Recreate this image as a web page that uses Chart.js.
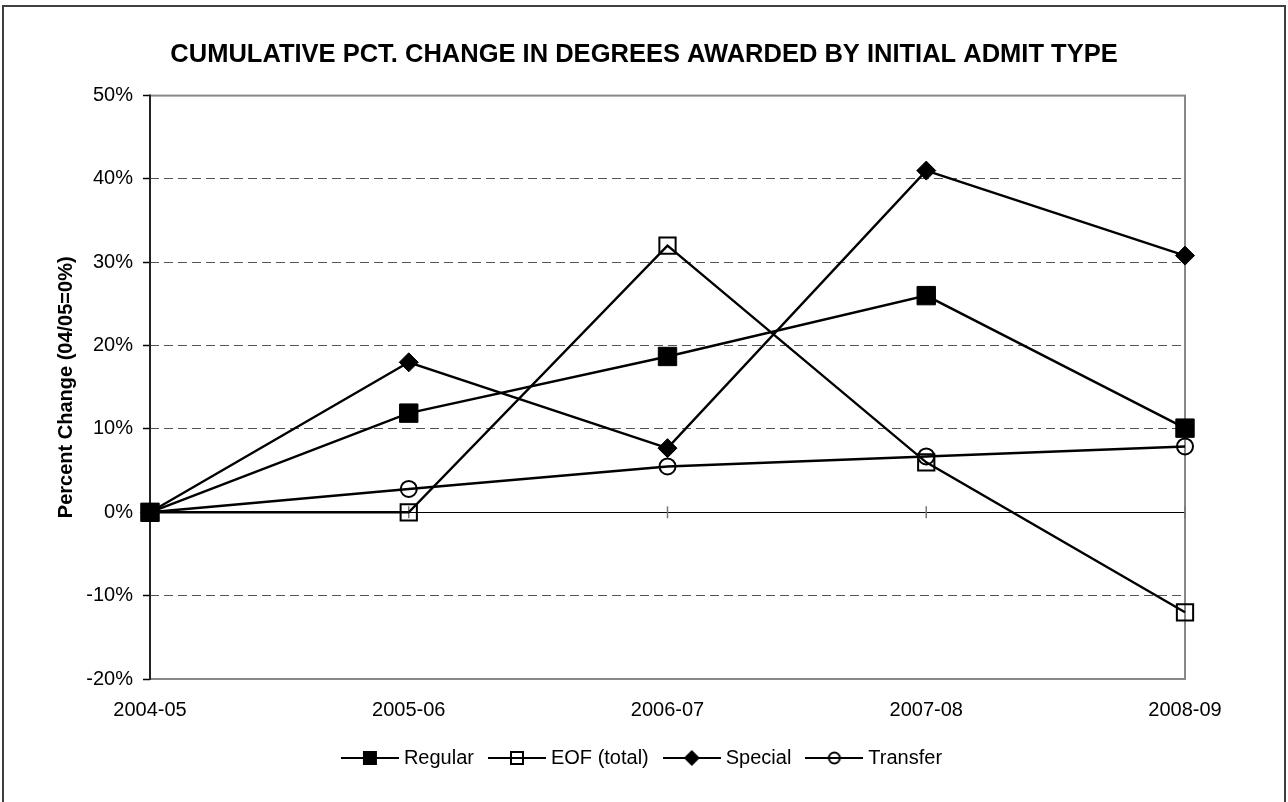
<!DOCTYPE html>
<html>
<head>
<meta charset="utf-8">
<script src="https://cdn.jsdelivr.net/npm/chart.js@4/dist/chart.umd.min.js"></script>
<style>
  html, body { margin: 0; padding: 0; background: #fff; overflow: hidden; }
  #wrap { position: relative; width: 1288px; height: 802px; }
  #chart { position: absolute; left: 0; top: 0; }
  #frame {
    position: absolute; left: 2px; top: 5px; width: 1280px; height: 820px;
    border: 2px solid #404040; pointer-events: none;
  }
</style>
</head>
<body>
<div id="wrap">
  <canvas id="chart" width="1288" height="802"></canvas>
  <div id="frame"></div>
</div>
<script>
const years = ["2004-05", "2005-06", "2006-07", "2007-08", "2008-09"];
const regular = [0, 11.9, 18.7, 26.0, 10.1];
const eofTotal = [0, 0, 32.0, 6.0, -12.0];
const special = [0, 18.0, 7.7, 41.0, 30.8];
const transfer = [0, 2.8, 5.5, 6.7, 7.9];
const yTicks = [-20, -10, 0, 10, 20, 30, 40, 50];

const FONT = "'Liberation Sans', Arial, sans-serif";

// little "line + marker" icons for the legend, like the Excel legend
function legendIcon(kind) {
  const c = document.createElement("canvas");
  c.width = 58;
  c.height = 20;
  const g = c.getContext("2d");
  g.strokeStyle = "#000";
  g.fillStyle = "#000";
  g.lineWidth = 2;
  g.beginPath();
  g.moveTo(0, 10);
  g.lineTo(58, 10);
  g.stroke();
  if (kind === "square") {
    g.fillRect(22, 3, 14, 14);
  } else if (kind === "hollowSquare") {
    g.strokeRect(23, 4, 12, 12);
  } else if (kind === "diamond") {
    g.beginPath();
    g.moveTo(21, 10); g.lineTo(29, 2); g.lineTo(37, 10); g.lineTo(29, 18);
    g.closePath();
    g.fill();
  } else {
    g.beginPath();
    g.arc(29, 10, 5.5, 0, Math.PI * 2);
    g.stroke();
  }
  return c;
}
const icons = [legendIcon("square"), legendIcon("hollowSquare"), legendIcon("diamond"), legendIcon("circle")];

// plot frame, zero line and category ticks (drawn under the series)
const plotFrame = {
  id: "plotFrame",
  beforeDatasetsDraw(chart) {
    const { ctx, chartArea: a, scales } = chart;
    const y0 = scales.y.getPixelForValue(0);
    ctx.save();
    ctx.strokeStyle = "#888";
    ctx.lineWidth = 2;
    ctx.strokeRect(a.left, a.top, a.right - a.left, a.bottom - a.top);
    // zero line
    ctx.strokeStyle = "#000";
    ctx.lineWidth = 1;
    ctx.beginPath();
    ctx.moveTo(a.left, Math.round(y0) + 0.5);
    ctx.lineTo(a.right, Math.round(y0) + 0.5);
    ctx.stroke();
    // category tick marks
    ctx.strokeStyle = "#777";
    ctx.lineWidth = 1.5;
    years.forEach((_, i) => {
      const x = scales.x.getPixelForValue(i);
      ctx.beginPath();
      ctx.moveTo(x, y0 - 6);
      ctx.lineTo(x, y0 + 6);
      ctx.stroke();
    });
    // value axis
    ctx.strokeStyle = "#000";
    ctx.lineWidth = 1.5;
    ctx.beginPath();
    ctx.moveTo(a.left, a.top - 1);
    ctx.lineTo(a.left, a.bottom + 1);
    ctx.stroke();
    ctx.restore();
  },
};

const common = {
  borderColor: "#000",
  borderWidth: 2.4,
  pointBorderColor: "#000",
  tension: 0,
  clip: false,
};

new Chart(document.getElementById("chart").getContext("2d"), {
  type: "line",
  data: {
    labels: years,
    datasets: [
      { ...common, label: "Regular", data: regular, pointStyle: "rect", pointRadius: 13, pointBorderWidth: 1, pointBackgroundColor: "#000" },
      { ...common, label: "EOF (total)", data: eofTotal, pointStyle: "rect", pointRadius: 11.5, pointBorderWidth: 2, pointBackgroundColor: "rgba(0,0,0,0)" },
      { ...common, label: "Special", data: special, pointStyle: "rectRot", pointRadius: 9.5, pointBorderWidth: 1, pointBackgroundColor: "#000" },
      { ...common, label: "Transfer", data: transfer, pointStyle: "circle", pointRadius: 8, pointBorderWidth: 2, pointBackgroundColor: "rgba(0,0,0,0)" },
    ],
  },
  options: {
    responsive: false,
    animation: false,
    devicePixelRatio: 1,
    layout: { padding: { left: 0, right: 0, top: 0, bottom: 24 } },
    plugins: {
      tooltip: { enabled: false },
      title: {
        display: true,
        text: "CUMULATIVE PCT. CHANGE IN DEGREES AWARDED BY INITIAL ADMIT TYPE",
        color: "#000",
        font: { family: FONT, size: 25.5, weight: "bold" },
        padding: { top: 40, bottom: 25 },
      },
      legend: {
        position: "bottom",
        labels: {
          color: "#000",
          font: { family: FONT, size: 20 },
          usePointStyle: true,
          pointStyleWidth: 48,
          padding: 19,
          generateLabels(chart) {
            return chart.data.datasets.map((ds, i) => ({
              text: ds.label,
              pointStyle: icons[i],
              fillStyle: "#000",
              strokeStyle: "#000",
              lineWidth: 0,
              fontColor: "#000",
              hidden: false,
              datasetIndex: i,
            }));
          },
        },
      },
    },
    scales: {
      x: {
        grid: { display: false, drawTicks: false },
        border: { display: false },
        ticks: { color: "#000", font: { family: FONT, size: 20 }, padding: 19, maxRotation: 0, autoSkip: false },
        afterFit(scale) { scale.height = 50; },
      },
      y: {
        min: -20,
        max: 50,
        afterBuildTicks(scale) { scale.ticks = yTicks.map((v) => ({ value: v })); },
        ticks: {
          color: "#000",
          font: { family: FONT, size: 20 },
          padding: 10,
          callback: (v) => v + "%",
        },
        grid: {
          color: (c) => (c.tick && (c.tick.value === 0 || c.tick.value === -20 || c.tick.value === 50) ? "rgba(0,0,0,0)" : "#555"),
          lineWidth: 1,
          tickLength: 7,
          tickColor: "#000",
          tickWidth: 1.5,
          tickBorderDash: [],
        },
        border: { display: false, dash: [9, 5] },
        title: {
          display: true,
          text: "Percent Change (04/05=0%)",
          color: "#000",
          font: { family: FONT, size: 20, weight: "bold" },
          padding: { top: 54, bottom: 0 },
        },
        afterFit(scale) { scale.width = 150; },
      },
      yRight: {
        position: "right",
        grid: { display: false },
        border: { display: false },
        ticks: { display: false },
        afterFit(scale) { scale.width = 103; },
      },
    },
  },
  plugins: [plotFrame],
});
</script>
</body>
</html>
